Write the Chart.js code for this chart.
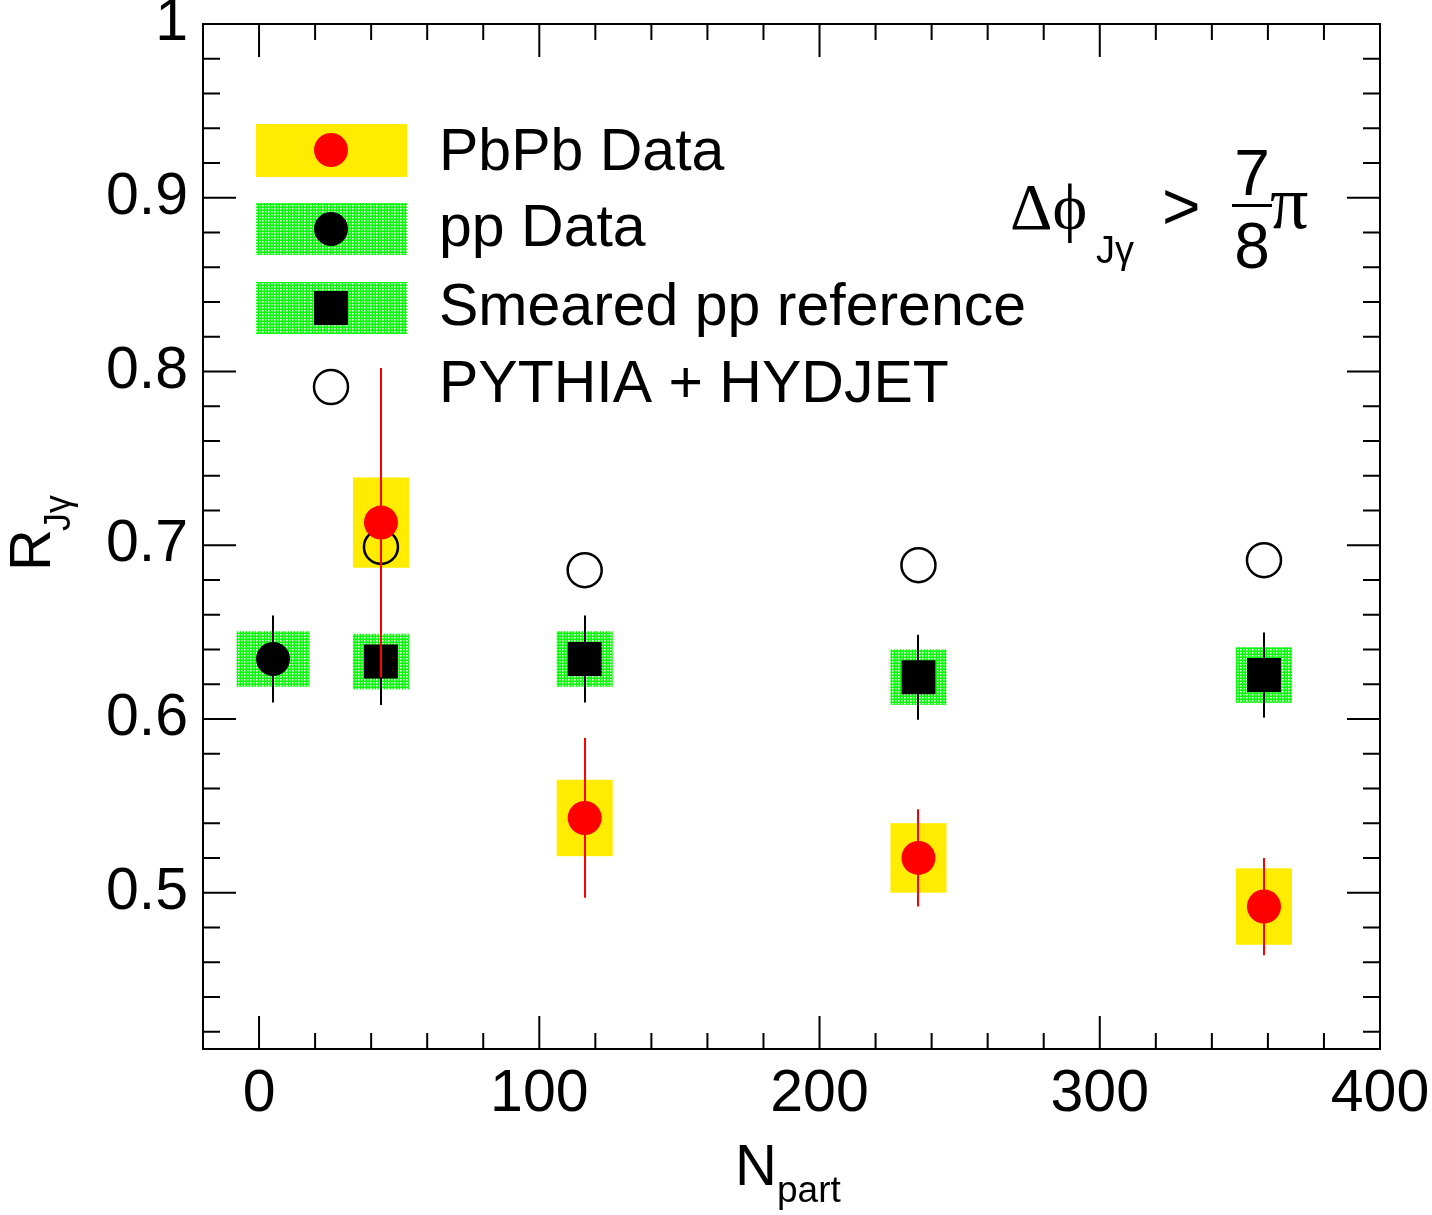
<!DOCTYPE html>
<html>
<head>
<meta charset="utf-8">
<script src="https://cdn.jsdelivr.net/npm/chart.js@4/dist/chart.umd.min.js"></script>
<style>
html,body{margin:0;padding:0;background:#fff;}
canvas{display:block;}
</style>
</head>
<body>
<canvas id="c" width="1432" height="1215"></canvas>
<script>
// ---------- data ----------
const xTickVals = [0, 100, 200, 300, 400];
const yTickVals = [0.5, 0.6, 0.7, 0.8, 0.9, 1];

const pbpbX = [43.5, 116.2, 235.3, 358.6];
const pbpbY = [0.713, 0.543, 0.520, 0.492];
const pbpbStat = [0.089, 0.046, 0.028, 0.028];
const pbpbSys = [0.026, 0.022, 0.020, 0.022];
const pbpbSysX = [10, 10, 10, 10];

const ppX = [5];
const ppY = [0.6345];
const ppStat = [0.025];
const ppSys = [0.016];
const ppSysX = [13];

const smX = [43.5, 116.2, 235.3, 358.6];
const smY = [0.633, 0.6345, 0.624, 0.6253];
const smStat = [0.025, 0.025, 0.0245, 0.0245];
const smSys = [0.016, 0.016, 0.016, 0.016];
const smSysX = [10, 10, 10, 10];

const pyX = [43.5, 116.2, 235.3, 358.6];
const pyY = [0.699, 0.6856, 0.6885, 0.6914];

const legendLabels = ['PbPb Data', 'pp Data', 'Smeared pp reference', 'PYTHIA + HYDJET'];

// ---------- styles ----------
const SANS = '"Liberation Sans", Arial, sans-serif';
const SERIF = '"Liberation Serif", "Times New Roman", serif';
const YELLOW = '#ffec00';
const RED = '#ff0000';

function makeGreenPattern(ctx) {
  const pc = document.createElement('canvas');
  pc.width = 3; pc.height = 3;
  const p = pc.getContext('2d');
  p.fillStyle = '#00ff00';
  p.fillRect(0, 0, 3, 3);
  p.fillStyle = '#ffffff';
  p.fillRect(1, 1, 1.5, 1.5);
  return ctx.createPattern(pc, 'repeat');
}

const toPts = (xs, ys) => xs.map((x, i) => ({x: x, y: ys[i]}));

const ctx0 = document.getElementById('c').getContext('2d');
const green = makeGreenPattern(ctx0);

const errInfo = {
  0: {err: pbpbStat, color: RED},
  1: {err: smStat, color: '#000'},
  2: {err: ppStat, color: '#000'}
};
const sysInfo = [
  {xs: ppX, ys: ppY, sys: ppSys, w: ppSysX, fill: 'green'},
  {xs: smX, ys: smY, sys: smSys, w: smSysX, fill: 'green'},
  {xs: pbpbX, ys: pbpbY, sys: pbpbSys, w: pbpbSysX, fill: YELLOW}
];

const rootPlugin = {
  id: 'rootStyle',
  beforeDatasetsDraw(chart) {
    const {ctx, scales: {x, y}} = chart;
    ctx.save();
    sysInfo.forEach(s => {
      s.xs.forEach((xv, i) => {
        const l = x.getPixelForValue(xv - s.w[i]);
        const r = x.getPixelForValue(xv + s.w[i]);
        const t = y.getPixelForValue(s.ys[i] + s.sys[i]);
        const b = y.getPixelForValue(s.ys[i] - s.sys[i]);
        ctx.fillStyle = s.fill === 'green' ? green : s.fill;
        ctx.fillRect(l, t, r - l, b - t);
      });
    });
    ctx.restore();
  },
  afterDatasetDraw(chart, args) {
    const info = errInfo[args.index];
    if (!info) return;
    const {ctx, scales: {x, y}} = chart;
    const data = chart.data.datasets[args.index].data;
    ctx.save();
    ctx.strokeStyle = info.color;
    ctx.lineWidth = 2;
    data.forEach((p, i) => {
      const px = Math.round(x.getPixelForValue(p.x));
      ctx.beginPath();
      ctx.moveTo(px, y.getPixelForValue(p.y + info.err[i]));
      ctx.lineTo(px, y.getPixelForValue(p.y - info.err[i]));
      ctx.stroke();
    });
    ctx.restore();
  },
  afterDraw(chart) {
    const {ctx, chartArea: ca, scales: {x, y}} = chart;
    ctx.save();
    ctx.strokeStyle = '#000';
    ctx.lineWidth = 2;
    ctx.strokeRect(ca.left, ca.top, ca.right - ca.left, ca.bottom - ca.top);
    ctx.beginPath();
    for (let v = -20; v <= 400; v += 20) {
      const px = x.getPixelForValue(v);
      const len = (v % 100 === 0) ? 33 : 16;
      ctx.moveTo(px, ca.bottom); ctx.lineTo(px, ca.bottom - len);
      ctx.moveTo(px, ca.top); ctx.lineTo(px, ca.top + len);
    }
    for (let k = 21; k <= 50; k++) {
      const v = k / 50;
      const py = y.getPixelForValue(v);
      const len = (k % 5 === 0) ? 33 : 17;
      ctx.moveTo(ca.left, py); ctx.lineTo(ca.left + len, py);
      ctx.moveTo(ca.right, py); ctx.lineTo(ca.right - len, py);
    }
    ctx.stroke();

    // legend
    const lx0 = 256, lx1 = 407, mx = 331;
    ctx.fillStyle = YELLOW; ctx.fillRect(lx0, 124, lx1 - lx0, 53);
    ctx.fillStyle = green; ctx.fillRect(lx0, 203, lx1 - lx0, 52);
    ctx.fillRect(lx0, 282, lx1 - lx0, 52);
    ctx.fillStyle = RED;
    ctx.beginPath(); ctx.arc(mx, 150, 17, 0, Math.PI * 2); ctx.fill();
    ctx.fillStyle = '#000';
    ctx.beginPath(); ctx.arc(mx, 229, 17, 0, Math.PI * 2); ctx.fill();
    ctx.fillRect(mx - 17, 291, 34, 34);
    ctx.lineWidth = 2.5;
    ctx.beginPath(); ctx.arc(mx, 387, 17, 0, Math.PI * 2); ctx.stroke();
    ctx.fillStyle = '#000';
    ctx.font = '59px ' + SANS;
    ctx.textBaseline = 'alphabetic';
    ctx.textAlign = 'left';
    const ly = [170, 246, 325, 402];
    legendLabels.forEach((t, i) => ctx.fillText(t, 439, ly[i]));

    // annotation: Δϕ_Jγ > 7/8 π
    ctx.font = '66px ' + SERIF;
    ctx.fillText('\u0394\u03d5', 1010, 229);
    ctx.font = '38px ' + SANS;
    ctx.fillText('J\u03b3', 1096, 263);
    ctx.font = '66px ' + SANS;
    ctx.fillText('>', 1162, 229);
    ctx.textAlign = 'center';
    ctx.font = '64px ' + SANS;
    ctx.fillText('7', 1252, 195);
    ctx.fillText('8', 1252, 268);
    ctx.fillRect(1232, 204, 40, 3);
    ctx.textAlign = 'left';
    ctx.font = '76px ' + SERIF;
    ctx.fillText('\u03c0', 1270, 228);

    // x title
    ctx.font = '58px ' + SANS;
    ctx.fillText('N', 735, 1185);
    ctx.font = '37px ' + SANS;
    ctx.fillText('part', 777, 1202);

    // y title (rotated)
    ctx.save();
    ctx.translate(50, 571);
    ctx.rotate(-Math.PI / 2);
    ctx.font = '58px ' + SANS;
    ctx.fillText('R', 0, 0);
    ctx.font = '36px ' + SANS;
    ctx.fillText('J\u03b3', 40, 20);
    ctx.restore();

    ctx.restore();
  }
};

new Chart(ctx0, {
  type: 'scatter',
  data: {
    datasets: [
      {label: 'PbPb Data', data: toPts(pbpbX, pbpbY), pointStyle: 'circle', pointRadius: 17, pointHoverRadius: 17,
       backgroundColor: RED, borderColor: RED, borderWidth: 0},
      {label: 'Smeared pp reference', data: toPts(smX, smY), pointStyle: 'rect', pointRadius: 24, pointHoverRadius: 24,
       backgroundColor: '#000', borderColor: '#000', borderWidth: 0},
      {label: 'pp Data', data: toPts(ppX, ppY), pointStyle: 'circle', pointRadius: 17, pointHoverRadius: 17,
       backgroundColor: '#000', borderColor: '#000', borderWidth: 0},
      {label: 'PYTHIA + HYDJET', data: toPts(pyX, pyY), pointStyle: 'circle', pointRadius: 17, pointHoverRadius: 17,
       backgroundColor: 'rgba(0,0,0,0)', borderColor: '#000', borderWidth: 2.5}
    ]
  },
  options: {
    responsive: false,
    devicePixelRatio: 1,
    animation: false,
    events: [],
    layout: {padding: {top: 24, right: 52, left: 0, bottom: 0}},
    plugins: {legend: {display: false}, tooltip: {enabled: false}},
    scales: {
      x: {
        type: 'linear', min: -20, max: 400,
        grid: {display: false, drawTicks: false}, border: {display: false},
        ticks: {color: '#000', font: {family: SANS, size: 59}, padding: 10, maxRotation: 0},
        afterBuildTicks: s => { s.ticks = xTickVals.map(v => ({value: v})); },
        afterFit: s => { s.height = 166; s.paddingLeft = 0; s.paddingRight = 0; }
      },
      y: {
        type: 'linear', min: 0.41, max: 1,
        grid: {display: false, drawTicks: false}, border: {display: false},
        ticks: {color: '#000', font: {family: SANS, size: 59}, padding: 15,
                callback: v => String(+v.toFixed(2))},
        afterBuildTicks: s => { s.ticks = yTickVals.map(v => ({value: v})); },
        afterFit: s => { s.width = 203; s.paddingTop = 0; s.paddingBottom = 0; }
      }
    }
  },
  plugins: [rootPlugin]
});
</script>
</body>
</html>
